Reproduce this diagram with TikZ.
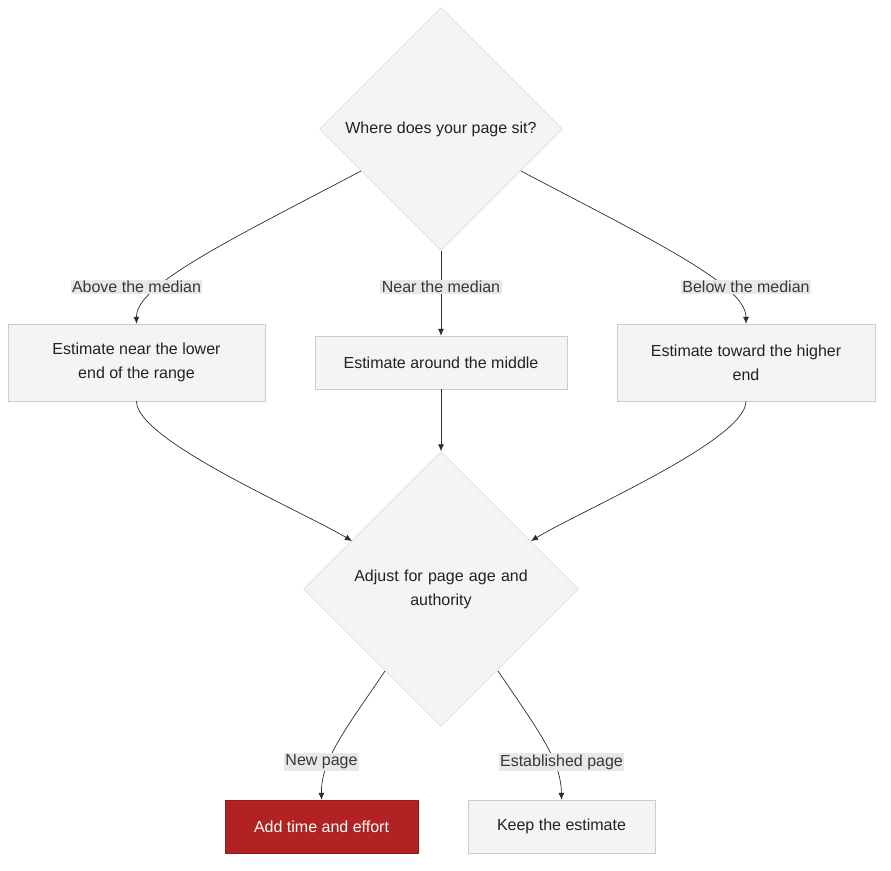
\documentclass[tikz,border=0pt]{standalone}
\usepackage{fontspec}
\setmainfont{Liberation Sans}
\usetikzlibrary{shapes.geometric,arrows.meta}
\definecolor{nodefill}{HTML}{F4F4F4}
\definecolor{nodeline}{HTML}{CCCCCC}
\definecolor{lblfill}{HTML}{E8E8E8}
\definecolor{txt}{HTML}{222222}
\definecolor{redfill}{HTML}{B22222}
\begin{document}
\begin{tikzpicture}[x=1pt,y=-1pt,
  box/.style={draw=nodeline,fill=nodefill,text=txt,align=center,font=\fontsize{16}{24}\selectfont,inner sep=0pt},
  dia/.style={shape=diamond,aspect=1,draw=nodeline,fill=nodefill,text=txt,align=center,inner sep=0pt,font=\fontsize{16}{24}\selectfont},
  lbl/.style={fill=lblfill,text=txt!90,font=\fontsize{16}{20}\selectfont,inner sep=1.5pt},
  edge/.style={draw=txt!95,line width=0.7pt,-{Latex[length=7pt,width=6pt]}}]
\useasboundingbox (0,0) rectangle (891,870);
\node[dia,minimum size=243pt] (d1) at (441,129) {Where does your page sit?};
\node[dia,minimum size=275pt,text width=190pt] (d2) at (441,589) {Adjust for page age and\\authority};
\node[box,minimum width=257pt,minimum height=77pt] (b1) at (136.5,362.5) {Estimate near the lower\\end of the range};
\node[box,minimum width=252pt,minimum height=53pt] (b2) at (441,362.5) {Estimate around the middle};
\node[box,minimum width=258pt,minimum height=77pt] (b3) at (746,362.5) {Estimate toward the higher\\end};
\node[box,fill=redfill,draw=redfill!80!black,text=white,minimum width=193pt,minimum height=53pt] (b4) at (321.5,826.5) {Add time and effort};
\node[box,minimum width=187pt,minimum height=53pt] (b5) at (561.5,826.5) {Keep the estimate};
\coordinate (s1) at (361,171);
\coordinate (s3) at (521,171);
\coordinate (t1) at (352,541);
\coordinate (t3) at (531,541);
\coordinate (s4) at (385,671);
\coordinate (s5) at (498,671);
\draw[edge] (s1) .. controls (230,240) and (136,285) .. (b1.north);
\draw[edge] (d1.south) -- (b2.north);
\draw[edge] (s3) .. controls (652,240) and (746,285) .. (b3.north);
\draw[edge] (b1.south) .. controls (136,440) and (300,510) .. (t1);
\draw[edge] (b2.south) -- (d2.north);
\draw[edge] (b3.south) .. controls (746,440) and (582,510) .. (t3);
\draw[edge] (s4) .. controls (345,730) and (321,760) .. (b4.north);
\draw[edge] (s5) .. controls (538,730) and (561,760) .. (b5.north);
\node[lbl] (l1) at (136.5,287) {Above the median};
\node[lbl] (l2) at (441,287) {Near the median};
\node[lbl] (l3) at (746,287) {Below the median};
\node[lbl] (l4) at (321.5,762) {New page};
\node[lbl] (l5) at (561.5,762) {Established page};
\end{tikzpicture}
\end{document}
